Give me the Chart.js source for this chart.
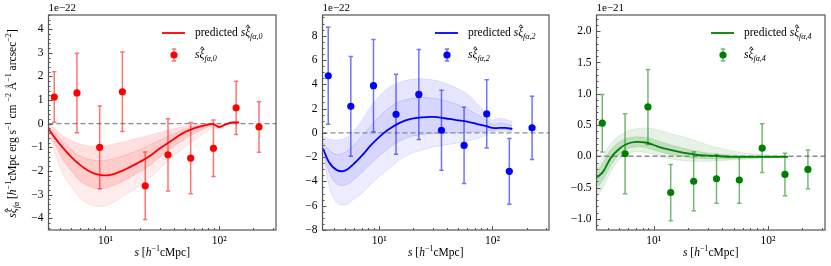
<!DOCTYPE html>
<html>
<head>
<meta charset="utf-8">
<script src="https://cdn.jsdelivr.net/npm/chart.js@4.4.0/dist/chart.umd.min.js"></script>
<style>
  html, body { margin: 0; padding: 0; background: #fff; }
  #wrap { position: relative; width: 831px; height: 266px; overflow: hidden; }
  canvas { position: absolute; top: 0; }
</style>
</head>
<body>
<div id="wrap">
  <canvas id="c0" width="280" height="266" style="left:0px"></canvas>
  <canvas id="c2" width="270" height="266" style="left:283px"></canvas>
  <canvas id="c4" width="275" height="266" style="left:556px"></canvas>
</div>
<script>
const SERIF = "'Liberation Serif', 'DejaVu Serif', serif";

// separations (h^-1 cMpc) of the model curves and of the measured bins
const curveS = [3.2, 3.6, 4.2, 5, 5.9, 7, 8.5, 10, 12, 15, 19, 24, 30, 38, 48, 60, 75, 88, 100, 115, 130, 150];
const binS = [3.55, 5.62, 8.91, 14.1, 22.4, 35.5, 56.2, 89.1, 141, 224];

// x axis
const X_MIN = 3.16, X_MAX = 316;
const xTickValues = [4, 5, 6, 7, 8, 9, 10, 20, 30, 40, 50, 60, 70, 80, 90, 100, 200, 300];
const xTickLabels = { 10: '10\u00b9', 100: '10\u00b2' };

// monopole, units of 1e-22
const pred0 = [-0.25, -0.6, -1.0, -1.4, -1.72, -1.98, -2.15, -2.19, -2.12, -1.93, -1.68, -1.4, -1.05, -0.72, -0.4, -0.2, -0.07, -0.01, -0.14, -0.02, 0.05, 0.05];
const envLo0 = [-0.35, -1.2, -2.1, -2.65, -3.1, -3.38, -3.5, -3.47, -3.3, -3.0, -2.7, -2.35, -1.9, -1.45, -1.05, -0.7, -0.38, -0.18, -0.24, -0.08, 0.0, 0.0];
const midLo0 = [-0.3, -0.85, -1.5, -2.0, -2.4, -2.63, -2.75, -2.73, -2.6, -2.38, -2.1, -1.8, -1.42, -1.05, -0.7, -0.42, -0.2, -0.08, -0.18, -0.05, 0.02, 0.03];
const midHi0 = [-0.15, -0.4, -0.75, -1.1, -1.35, -1.5, -1.56, -1.55, -1.47, -1.33, -1.14, -0.92, -0.7, -0.47, -0.27, -0.12, -0.03, 0.0, -0.11, 0.0, 0.06, 0.06];
const envHi0 = [-0.05, -0.2, -0.5, -0.7, -0.85, -0.93, -0.96, -0.93, -0.85, -0.75, -0.62, -0.5, -0.37, -0.24, -0.13, -0.05, 0.0, 0.02, -0.08, 0.02, 0.08, 0.08];
const meas0 = [1.13, 1.3, -1.0, 1.35, -2.63, -1.32, -1.46, -1.04, 0.67, -0.14];
const err0 = [1.07, 1.68, 1.75, 1.68, 1.43, 1.53, 1.51, 1.2, 1.13, 1.07];
const yMajor0 = [-4, -3, -2, -1, 0, 1, 2, 3, 4];

// quadrupole, units of 1e-22
const pred2 = [-1.3, -2.4, -3.05, -3.12, -2.6, -1.9, -1.0, -0.35, 0.25, 0.8, 1.15, 1.28, 1.31, 1.2, 1.05, 0.93, 0.7, 0.55, 0.4, 0.4, 0.4, 0.33];
const envLo2 = [-1.6, -4.3, -5.7, -5.95, -5.5, -5.0, -4.2, -3.6, -3.0, -2.25, -1.7, -1.4, -1.15, -1.0, -0.85, -0.68, -0.42, -0.22, 0.1, 0.12, 0.12, 0.1];
const midLo2 = [-1.45, -3.2, -4.2, -4.3, -3.9, -3.3, -2.5, -1.9, -1.3, -0.7, -0.3, -0.15, -0.05, 0.0, 0.0, 0.05, 0.1, 0.12, 0.2, 0.25, 0.25, 0.2];
const midHi2 = [-0.8, -1.4, -1.8, -1.6, -1.1, -0.3, 0.6, 1.3, 2.0, 2.55, 2.8, 2.9, 2.85, 2.65, 2.35, 1.95, 1.45, 1.05, 0.7, 0.8, 0.75, 0.6];
const envHi2 = [-0.3, -0.5, -0.6, -0.45, 0.1, 1.0, 2.2, 3.0, 3.7, 4.15, 4.4, 4.45, 4.35, 4.1, 3.7, 3.2, 2.3, 1.6, 1.05, 1.2, 1.1, 0.95];
const meas2 = [4.7, 2.18, 3.88, 1.53, 3.16, 0.21, -1.04, 1.56, -3.17, 0.41];
const err2 = [4.0, 4.1, 3.8, 3.3, 3.7, 3.3, 3.14, 2.8, 2.7, 2.6];
const yMajor2 = [-8, -6, -4, -2, 0, 2, 4, 6, 8];

// hexadecapole, units of 1e-21
const pred4 = [-0.34, -0.25, -0.03, 0.12, 0.2, 0.23, 0.22, 0.18, 0.13, 0.09, 0.05, 0.02, 0.01, 0.0, -0.01, -0.01, -0.01, -0.01, -0.01, -0.01, -0.01, -0.01];
const envLo4 = [-0.65, -0.5, -0.25, -0.05, 0.05, 0.07, 0.06, 0.03, -0.01, -0.05, -0.07, -0.08, -0.08, -0.07, -0.06, -0.05, -0.04, -0.03, -0.03, -0.02, -0.02, -0.02];
const midLo4 = [-0.5, -0.38, -0.15, 0.03, 0.12, 0.15, 0.14, 0.1, 0.06, 0.02, -0.01, -0.03, -0.04, -0.04, -0.04, -0.03, -0.03, -0.02, -0.02, -0.02, -0.01, -0.01];
const midHi4 = [-0.25, -0.1, 0.1, 0.23, 0.29, 0.31, 0.3, 0.27, 0.22, 0.17, 0.12, 0.08, 0.05, 0.03, 0.02, 0.01, 0.01, 0.0, 0.0, 0.0, 0.0, 0.0];
const envHi4 = [-0.2, 0.0, 0.2, 0.33, 0.4, 0.44, 0.45, 0.44, 0.4, 0.35, 0.3, 0.24, 0.18, 0.13, 0.09, 0.06, 0.04, 0.03, 0.02, 0.02, 0.01, 0.01];
const meas4 = [0.53, 0.04, 0.79, -0.58, -0.4, -0.36, -0.38, 0.13, -0.29, -0.21];
const err4 = [0.46, 0.64, 0.6, 0.45, 0.47, 0.39, 0.37, 0.39, 0.34, 0.31];
const yMajor4 = [-1.0, -0.5, 0.0, 0.5, 1.0, 1.5, 2.0];

const FRAME = '#555555';

// draws a run of text pieces: r roman, i italic, h italic with hat, b italic subscript, p superscript
function richText(ctx, parts, x, y, size, measureOnly) {
    let cx = x;
    for (const [t, k] of parts) {
        const small = k === 'b' || k === 'p';
        const fs = small ? size * 0.7 : size;
        const italic = k === 'i' || k === 'b' || k === 'h';
        ctx.font = `${italic ? 'italic ' : ''}${fs}px ${SERIF}`;
        const dy = k === 'b' ? size * 0.3 : (k === 'p' ? -size * 0.35 : 0);
        const w = ctx.measureText(t).width;
        if (!measureOnly) {
            ctx.fillText(t, cx, y + dy);
            if (k === 'h') {
                ctx.save();
                ctx.strokeStyle = ctx.fillStyle;
                ctx.lineWidth = 0.8;
                ctx.beginPath();
                ctx.moveTo(cx + w * 0.2, y - size * 0.5);
                ctx.lineTo(cx + w * 0.55, y - size * 0.72);
                ctx.lineTo(cx + w * 0.9, y - size * 0.5);
                ctx.stroke();
                ctx.restore();
            }
        }
        cx += w;
    }
    return cx - x;
}

function minorTicks(majors, div, lo, hi) {
    const step = (majors[1] - majors[0]) / div;
    const out = [];
    for (let k = Math.ceil(lo / step); k * step <= hi + 1e-9; k++) {
        out.push(Math.round(k * step * 1e6) / 1e6);
    }
    return out;
}

const decoPlugin = {
    id: 'deco',
    beforeDatasetDraw(chart, args) {
        const o = chart.options.plugins.deco;
        const ctx = chart.ctx, ca = chart.chartArea;
        const xs = chart.scales.x, ys = chart.scales.y;
        if (args.index === 1) {
            // zero line under the prediction
            ctx.save();
            ctx.strokeStyle = '#8c8c8c';
            ctx.lineWidth = 1.3;
            ctx.setLineDash([5, 3]);
            const y0 = ys.getPixelForValue(0);
            ctx.beginPath();
            ctx.moveTo(ca.left, y0);
            ctx.lineTo(ca.right, y0);
            ctx.stroke();
            ctx.restore();
        }
        if (args.index === 0) {
            // error bars under the markers
            ctx.save();
            ctx.beginPath();
            ctx.rect(ca.left, ca.top, ca.width, ca.height);
            ctx.clip();
            ctx.strokeStyle = `rgba(${o.rgb},0.55)`;
            ctx.lineWidth = 1.5;
            o.meas.forEach((v, i) => {
                const px = xs.getPixelForValue(binS[i]);
                const top = ys.getPixelForValue(v + o.err[i]);
                const bot = ys.getPixelForValue(v - o.err[i]);
                ctx.beginPath();
                ctx.moveTo(px, top); ctx.lineTo(px, bot);
                ctx.moveTo(px - 2.2, top); ctx.lineTo(px + 2.2, top);
                ctx.moveTo(px - 2.2, bot); ctx.lineTo(px + 2.2, bot);
                ctx.stroke();
            });
            ctx.restore();
        }
    },
    afterDraw(chart) {
        const o = chart.options.plugins.deco;
        const ctx = chart.ctx, ca = chart.chartArea;
        const xs = chart.scales.x, ys = chart.scales.y;
        ctx.save();
        // inward tick marks
        ctx.strokeStyle = FRAME;
        ctx.lineWidth = 1;
        ctx.beginPath();
        ys.ticks.forEach(t => {
            const py = Math.round(ys.getPixelForValue(t.value)) + 0.5;
            const len = t.label ? 4 : 2;
            ctx.moveTo(ca.left, py); ctx.lineTo(ca.left + len, py);
        });
        xs.ticks.forEach(t => {
            const px = Math.round(xs.getPixelForValue(t.value)) + 0.5;
            const len = t.label ? 4 : 2;
            ctx.moveTo(px, ca.bottom); ctx.lineTo(px, ca.bottom - len);
        });
        ctx.stroke();
        // frame
        ctx.lineWidth = 1.2;
        ctx.strokeRect(ca.left, ca.top, ca.width, ca.height);

        ctx.fillStyle = '#000';
        ctx.textBaseline = 'alphabetic';
        ctx.textAlign = 'left';
        ctx.font = `11px ${SERIF}`;
        ctx.fillText(o.offset, ca.left, ca.top - 4);

        // legend
        ctx.textBaseline = 'middle';
        const R = ca.right, y1 = ca.top + 18, y2 = ca.top + 40;
        ctx.strokeStyle = o.color;
        ctx.lineWidth = 1.8;
        ctx.beginPath();
        ctx.moveTo(R - 114, y1); ctx.lineTo(R - 91, y1);
        ctx.stroke();
        const sym = [['s', 'i'], ['\u03be', 'h'], ['f\u03b1,' + o.ell, 'b']];
        richText(ctx, [['predicted ', 'r']].concat(sym), R - 81, y1, 11.5);
        ctx.strokeStyle = `rgba(${o.rgb},0.55)`;
        ctx.lineWidth = 1.5;
        ctx.beginPath();
        ctx.moveTo(R - 102, y2 - 6); ctx.lineTo(R - 102, y2 + 6);
        ctx.moveTo(R - 104.2, y2 - 6); ctx.lineTo(R - 99.8, y2 - 6);
        ctx.moveTo(R - 104.2, y2 + 6); ctx.lineTo(R - 99.8, y2 + 6);
        ctx.stroke();
        ctx.fillStyle = o.color;
        ctx.beginPath();
        ctx.arc(R - 102, y2, 3.6, 0, Math.PI * 2);
        ctx.fill();
        ctx.fillStyle = '#000';
        richText(ctx, sym, R - 81, y2, 11.5);

        // x axis title
        const xt = [['s', 'i'], [' [', 'r'], ['h', 'i'], ['\u22121', 'p'], ['cMpc]', 'r']];
        const wx = richText(ctx, xt, 0, 0, 11.5, true);
        richText(ctx, xt, (ca.left + ca.right) / 2 - wx / 2, 253, 11.5);

        // y axis title (first panel only)
        if (o.yTitle) {
            const yt = [['s', 'i'], ['\u03be', 'h'], ['f\u03b1', 'b'], [' [', 'r'], ['h', 'i'], ['\u22121', 'p'],
                ['cMpc erg s', 'r'], ['\u22121', 'p'], [' cm ', 'r'], ['\u22122', 'p'], [' \u00c5', 'r'], ['\u22121', 'p'],
                [' arcsec', 'r'], ['\u22122', 'p'], [']', 'r']];
            const wy = richText(ctx, yt, 0, 0, 11.5, true);
            ctx.translate(13, (ca.top + ca.bottom) / 2 + 1);
            ctx.rotate(-Math.PI / 2);
            richText(ctx, yt, -wy / 2, 0, 11.5);
        }
        ctx.restore();
    }
};

function fmtTick(v, digits) {
    const s = v.toFixed(digits);
    return v < 0 ? '\u2212' + s.slice(1) : s;
}

function buildPanel(id, p) {
    const curve = (arr) => curveS.map((s, i) => ({ x: s, y: arr[i] }));
    const rgba = (a) => `rgba(${p.rgb},${a})`;
    const band = (arr, lineA, fillA, fill) => ({
        data: curve(arr), showLine: true, borderColor: rgba(lineA), borderWidth: 0.8,
        backgroundColor: rgba(fillA), fill: fill, pointRadius: 0, tension: 0.35
    });
    const yTicks = minorTicks(p.yMajor, p.minorDiv, p.yMin, p.yMax);

    new Chart(document.getElementById(id), {
        type: 'scatter',
        data: {
            datasets: [
                {
                    data: binS.map((s, i) => ({ x: s, y: p.meas[i] })),
                    backgroundColor: p.color, borderColor: p.color,
                    pointRadius: 3.6, borderWidth: 0
                },
                {
                    data: curve(p.pred), showLine: true, borderColor: p.color, borderWidth: 1.8,
                    pointRadius: 0, fill: false, tension: 0.35
                },
                band(p.envLo, 0.14, p.alphas[0], '+1'),
                band(p.midLo, 0.18, p.alphas[1], '+1'),
                band(p.midHi, 0.18, p.alphas[2], '+1'),
                band(p.envHi, 0.12, 0, false)
            ]
        },
        options: {
            responsive: false,
            animation: false,
            events: [],
            layout: { padding: { left: 0, right: p.padRight, top: 15, bottom: 0 } },
            plugins: {
                legend: { display: false },
                tooltip: { enabled: false },
                deco: {
                    color: p.color, rgb: p.rgb, meas: p.meas, err: p.err,
                    ell: p.ell, offset: p.offset, yTitle: p.yTitle
                }
            },
            scales: {
                x: {
                    type: 'logarithmic', min: X_MIN, max: X_MAX,
                    afterBuildTicks: (sc) => { sc.ticks = xTickValues.map(v => ({ value: v })); },
                    afterFit: (sc) => { sc.height = 36; },
                    grid: { display: false, drawTicks: false },
                    border: { display: false },
                    ticks: {
                        autoSkip: false, maxRotation: 0, padding: 4, color: '#000',
                        font: { family: SERIF, size: 11.5 },
                        callback: (v) => xTickLabels[v] || ''
                    }
                },
                y: {
                    type: 'linear', min: p.yMin, max: p.yMax,
                    afterBuildTicks: (sc) => { sc.ticks = yTicks.map(v => ({ value: v })); },
                    afterFit: (sc) => { sc.width = p.axisW; },
                    grid: { display: false, drawTicks: false },
                    border: { display: false },
                    ticks: {
                        autoSkip: false, padding: 5, color: '#000',
                        font: { family: SERIF, size: 11.5 },
                        callback: (v) => p.yMajor.some(m => Math.abs(m - v) < 1e-6) ? fmtTick(v, p.digits) : ''
                    }
                }
            }
        },
        plugins: [decoPlugin]
    });
}

buildPanel('c0', {
    color: '#ff0000', rgb: '255,0,0', ell: 0, offset: '1e\u221222', yTitle: true,
    pred: pred0, envLo: envLo0, midLo: midLo0, midHi: midHi0, envHi: envHi0,
    meas: meas0, err: err0, yMajor: yMajor0, minorDiv: 5, digits: 0,
    yMin: -4.5, yMax: 4.6, axisW: 48.5, padRight: 4, alphas: [0.07, 0.2, 0.12]
});
buildPanel('c2', {
    color: '#0000ff', rgb: '0,0,255', ell: 2, offset: '1e\u221222', yTitle: false,
    pred: pred2, envLo: envLo2, midLo: midLo2, midHi: midHi2, envHi: envHi2,
    meas: meas2, err: err2, yMajor: yMajor2, minorDiv: 4, digits: 0,
    yMin: -8, yMax: 9.7, axisW: 39.5, padRight: 3.5, alphas: [0.07, 0.16, 0.1]
});
buildPanel('c4', {
    color: '#008000', rgb: '0,128,0', ell: 4, offset: '1e\u221221', yTitle: false,
    pred: pred4, envLo: envLo4, midLo: midLo4, midHi: midHi4, envHi: envHi4,
    meas: meas4, err: err4, yMajor: yMajor4, minorDiv: 5, digits: 1,
    yMin: -1.18, yMax: 2.26, axisW: 40.5, padRight: 6, alphas: [0.1, 0.25, 0.1]
});
</script>
</body>
</html>
